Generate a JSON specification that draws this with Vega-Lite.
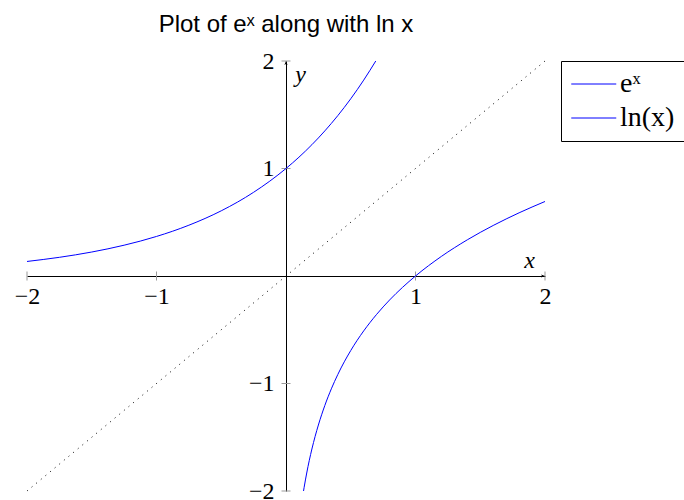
{
  "$schema": "https://vega.github.io/schema/vega-lite/v6.json",
  "width": 518,
  "height": 430,
  "autosize": {"type": "none"},
  "padding": {"left": 27, "top": 61, "right": 139, "bottom": 9},
  "title": {
    "text": "Plot of eˣ along with ln x",
    "font": "Liberation Sans",
    "fontSize": 24,
    "fontWeight": "normal",
    "color": "black",
    "anchor": "middle",
    "baseline": "alphabetic",
    "offset": 28,
    "dy": 35
  },
  "config": {
    "view": {"stroke": null},
    "axis": {"grid": false}
  },
  "datasets": {
    "diagonal": [
      {"x": -2, "y": -2},
      {"x": 2, "y": 2}
    ],
    "curves": [
      {"fn": "eˣ", "x": -2, "y": 0.1353},
      {"fn": "eˣ", "x": -1.75, "y": 0.1738},
      {"fn": "eˣ", "x": -1.5, "y": 0.2231},
      {"fn": "eˣ", "x": -1.25, "y": 0.2865},
      {"fn": "eˣ", "x": -1, "y": 0.3679},
      {"fn": "eˣ", "x": -0.75, "y": 0.4724},
      {"fn": "eˣ", "x": -0.5, "y": 0.6065},
      {"fn": "eˣ", "x": -0.25, "y": 0.7788},
      {"fn": "eˣ", "x": 0, "y": 1},
      {"fn": "eˣ", "x": 0.1, "y": 1.1052},
      {"fn": "eˣ", "x": 0.2, "y": 1.2214},
      {"fn": "eˣ", "x": 0.3, "y": 1.3499},
      {"fn": "eˣ", "x": 0.4, "y": 1.4918},
      {"fn": "eˣ", "x": 0.5, "y": 1.6487},
      {"fn": "eˣ", "x": 0.6, "y": 1.8221},
      {"fn": "eˣ", "x": 0.6931, "y": 2},
      {"fn": "ln(x)", "x": 0.1353, "y": -2},
      {"fn": "ln(x)", "x": 0.14, "y": -1.9661},
      {"fn": "ln(x)", "x": 0.15, "y": -1.8971},
      {"fn": "ln(x)", "x": 0.16, "y": -1.8326},
      {"fn": "ln(x)", "x": 0.18, "y": -1.7148},
      {"fn": "ln(x)", "x": 0.2, "y": -1.6094},
      {"fn": "ln(x)", "x": 0.225, "y": -1.4917},
      {"fn": "ln(x)", "x": 0.25, "y": -1.3863},
      {"fn": "ln(x)", "x": 0.3, "y": -1.204},
      {"fn": "ln(x)", "x": 0.35, "y": -1.0498},
      {"fn": "ln(x)", "x": 0.4, "y": -0.9163},
      {"fn": "ln(x)", "x": 0.5, "y": -0.6931},
      {"fn": "ln(x)", "x": 0.6, "y": -0.5108},
      {"fn": "ln(x)", "x": 0.7, "y": -0.3567},
      {"fn": "ln(x)", "x": 0.8, "y": -0.2231},
      {"fn": "ln(x)", "x": 0.9, "y": -0.1054},
      {"fn": "ln(x)", "x": 1, "y": 0},
      {"fn": "ln(x)", "x": 1.2, "y": 0.1823},
      {"fn": "ln(x)", "x": 1.4, "y": 0.3365},
      {"fn": "ln(x)", "x": 1.6, "y": 0.47},
      {"fn": "ln(x)", "x": 1.8, "y": 0.5878},
      {"fn": "ln(x)", "x": 2, "y": 0.6931}
    ],
    "xticks": [
      {"x": -2, "y": 0},
      {"x": -1, "y": 0},
      {"x": 1, "y": 0},
      {"x": 2, "y": 0}
    ],
    "yticks": [
      {"x": 0, "y": -2},
      {"x": 0, "y": -1},
      {"x": 0, "y": 1},
      {"x": 0, "y": 2}
    ],
    "xarrow": [{"x": 2, "y": 0}],
    "yarrow": [{"x": 0, "y": 2}]
  },
  "layer": [
    {
      "data": {"name": "diagonal"},
      "mark": {"type": "line", "color": "black", "strokeWidth": 1, "strokeDash": [1, 5]},
      "encoding": {
        "x": {
          "field": "x",
          "type": "quantitative",
          "scale": {"domain": [-2, 2], "nice": false, "zero": false},
          "axis": {
            "orient": "bottom",
            "offset": -215,
            "values": [-2, -1, 1, 2],
            "format": "d",
            "ticks": false,
            "domainColor": "black",
            "domainWidth": 1,
            "labelFont": "Liberation Serif",
            "labelFontSize": 24,
            "labelColor": "black",
            "labelPadding": 8,
            "labelFlush": false,
            "labelOverlap": false,
            "title": "x",
            "titleFont": "Liberation Serif",
            "titleFontStyle": "italic",
            "titleFontWeight": "normal",
            "titleFontSize": 24,
            "titleColor": "black",
            "titleAlign": "center",
            "titleBaseline": "alphabetic",
            "titleX": 502,
            "titleY": -9
          }
        },
        "y": {
          "field": "y",
          "type": "quantitative",
          "scale": {"domain": [-2, 2], "nice": false, "zero": false},
          "axis": {
            "orient": "left",
            "offset": -259,
            "values": [-2, -1, 1, 2],
            "format": "d",
            "ticks": false,
            "domainColor": "black",
            "domainWidth": 1,
            "labelFont": "Liberation Serif",
            "labelFontSize": 24,
            "labelColor": "black",
            "labelPadding": 12,
            "labelFlush": false,
            "labelOverlap": false,
            "title": "y",
            "titleFont": "Liberation Serif",
            "titleFontStyle": "italic",
            "titleFontWeight": "normal",
            "titleFontSize": 24,
            "titleColor": "black",
            "titleAngle": 0,
            "titleAlign": "center",
            "titleBaseline": "alphabetic",
            "titleX": 14,
            "titleY": 20
          }
        }
      }
    },
    {
      "data": {"name": "xticks"},
      "mark": {"type": "tick", "orient": "vertical", "size": 9, "thickness": 1, "color": "#9a9a9a", "opacity": 1},
      "encoding": {
        "x": {"field": "x", "type": "quantitative"},
        "y": {"field": "y", "type": "quantitative"}
      }
    },
    {
      "data": {"name": "yticks"},
      "mark": {"type": "tick", "orient": "horizontal", "size": 9, "thickness": 1, "color": "#9a9a9a", "opacity": 1},
      "encoding": {
        "x": {"field": "x", "type": "quantitative"},
        "y": {"field": "y", "type": "quantitative"}
      }
    },
    {
      "data": {"name": "xarrow"},
      "mark": {"type": "point", "shape": "M 0 0 L -2 -0.8 L -1.5 0 L -2 0.8 Z", "size": 16, "filled": true, "color": "black", "opacity": 1},
      "encoding": {
        "x": {"field": "x", "type": "quantitative"},
        "y": {"field": "y", "type": "quantitative"}
      }
    },
    {
      "data": {"name": "yarrow"},
      "mark": {"type": "point", "shape": "M 0 0 L -0.8 2 L 0 1.5 L 0.8 2 Z", "size": 16, "filled": true, "color": "black", "opacity": 1},
      "encoding": {
        "x": {"field": "x", "type": "quantitative"},
        "y": {"field": "y", "type": "quantitative"}
      }
    },
    {
      "data": {"name": "curves"},
      "mark": {"type": "line", "strokeWidth": 1, "interpolate": "monotone"},
      "encoding": {
        "x": {"field": "x", "type": "quantitative"},
        "y": {"field": "y", "type": "quantitative"},
        "color": {
          "field": "fn",
          "type": "nominal",
          "scale": {"domain": ["eˣ", "ln(x)"], "range": ["blue", "blue"]},
          "legend": {
            "orient": "none",
            "legendX": 534,
            "legendY": 0,
            "title": null,
            "symbolType": "M -1.7 0 H 4.3",
            "symbolSize": 225,
            "symbolStrokeWidth": 1,
            "labelFont": "Liberation Serif",
            "labelFontSize": 28,
            "labelColor": "black",
            "labelOffset": 22,
            "padding": 9,
            "rowPadding": 6,
            "strokeColor": "black",
            "fillColor": "white",
            "cornerRadius": 0
          }
        }
      }
    }
  ]
}
